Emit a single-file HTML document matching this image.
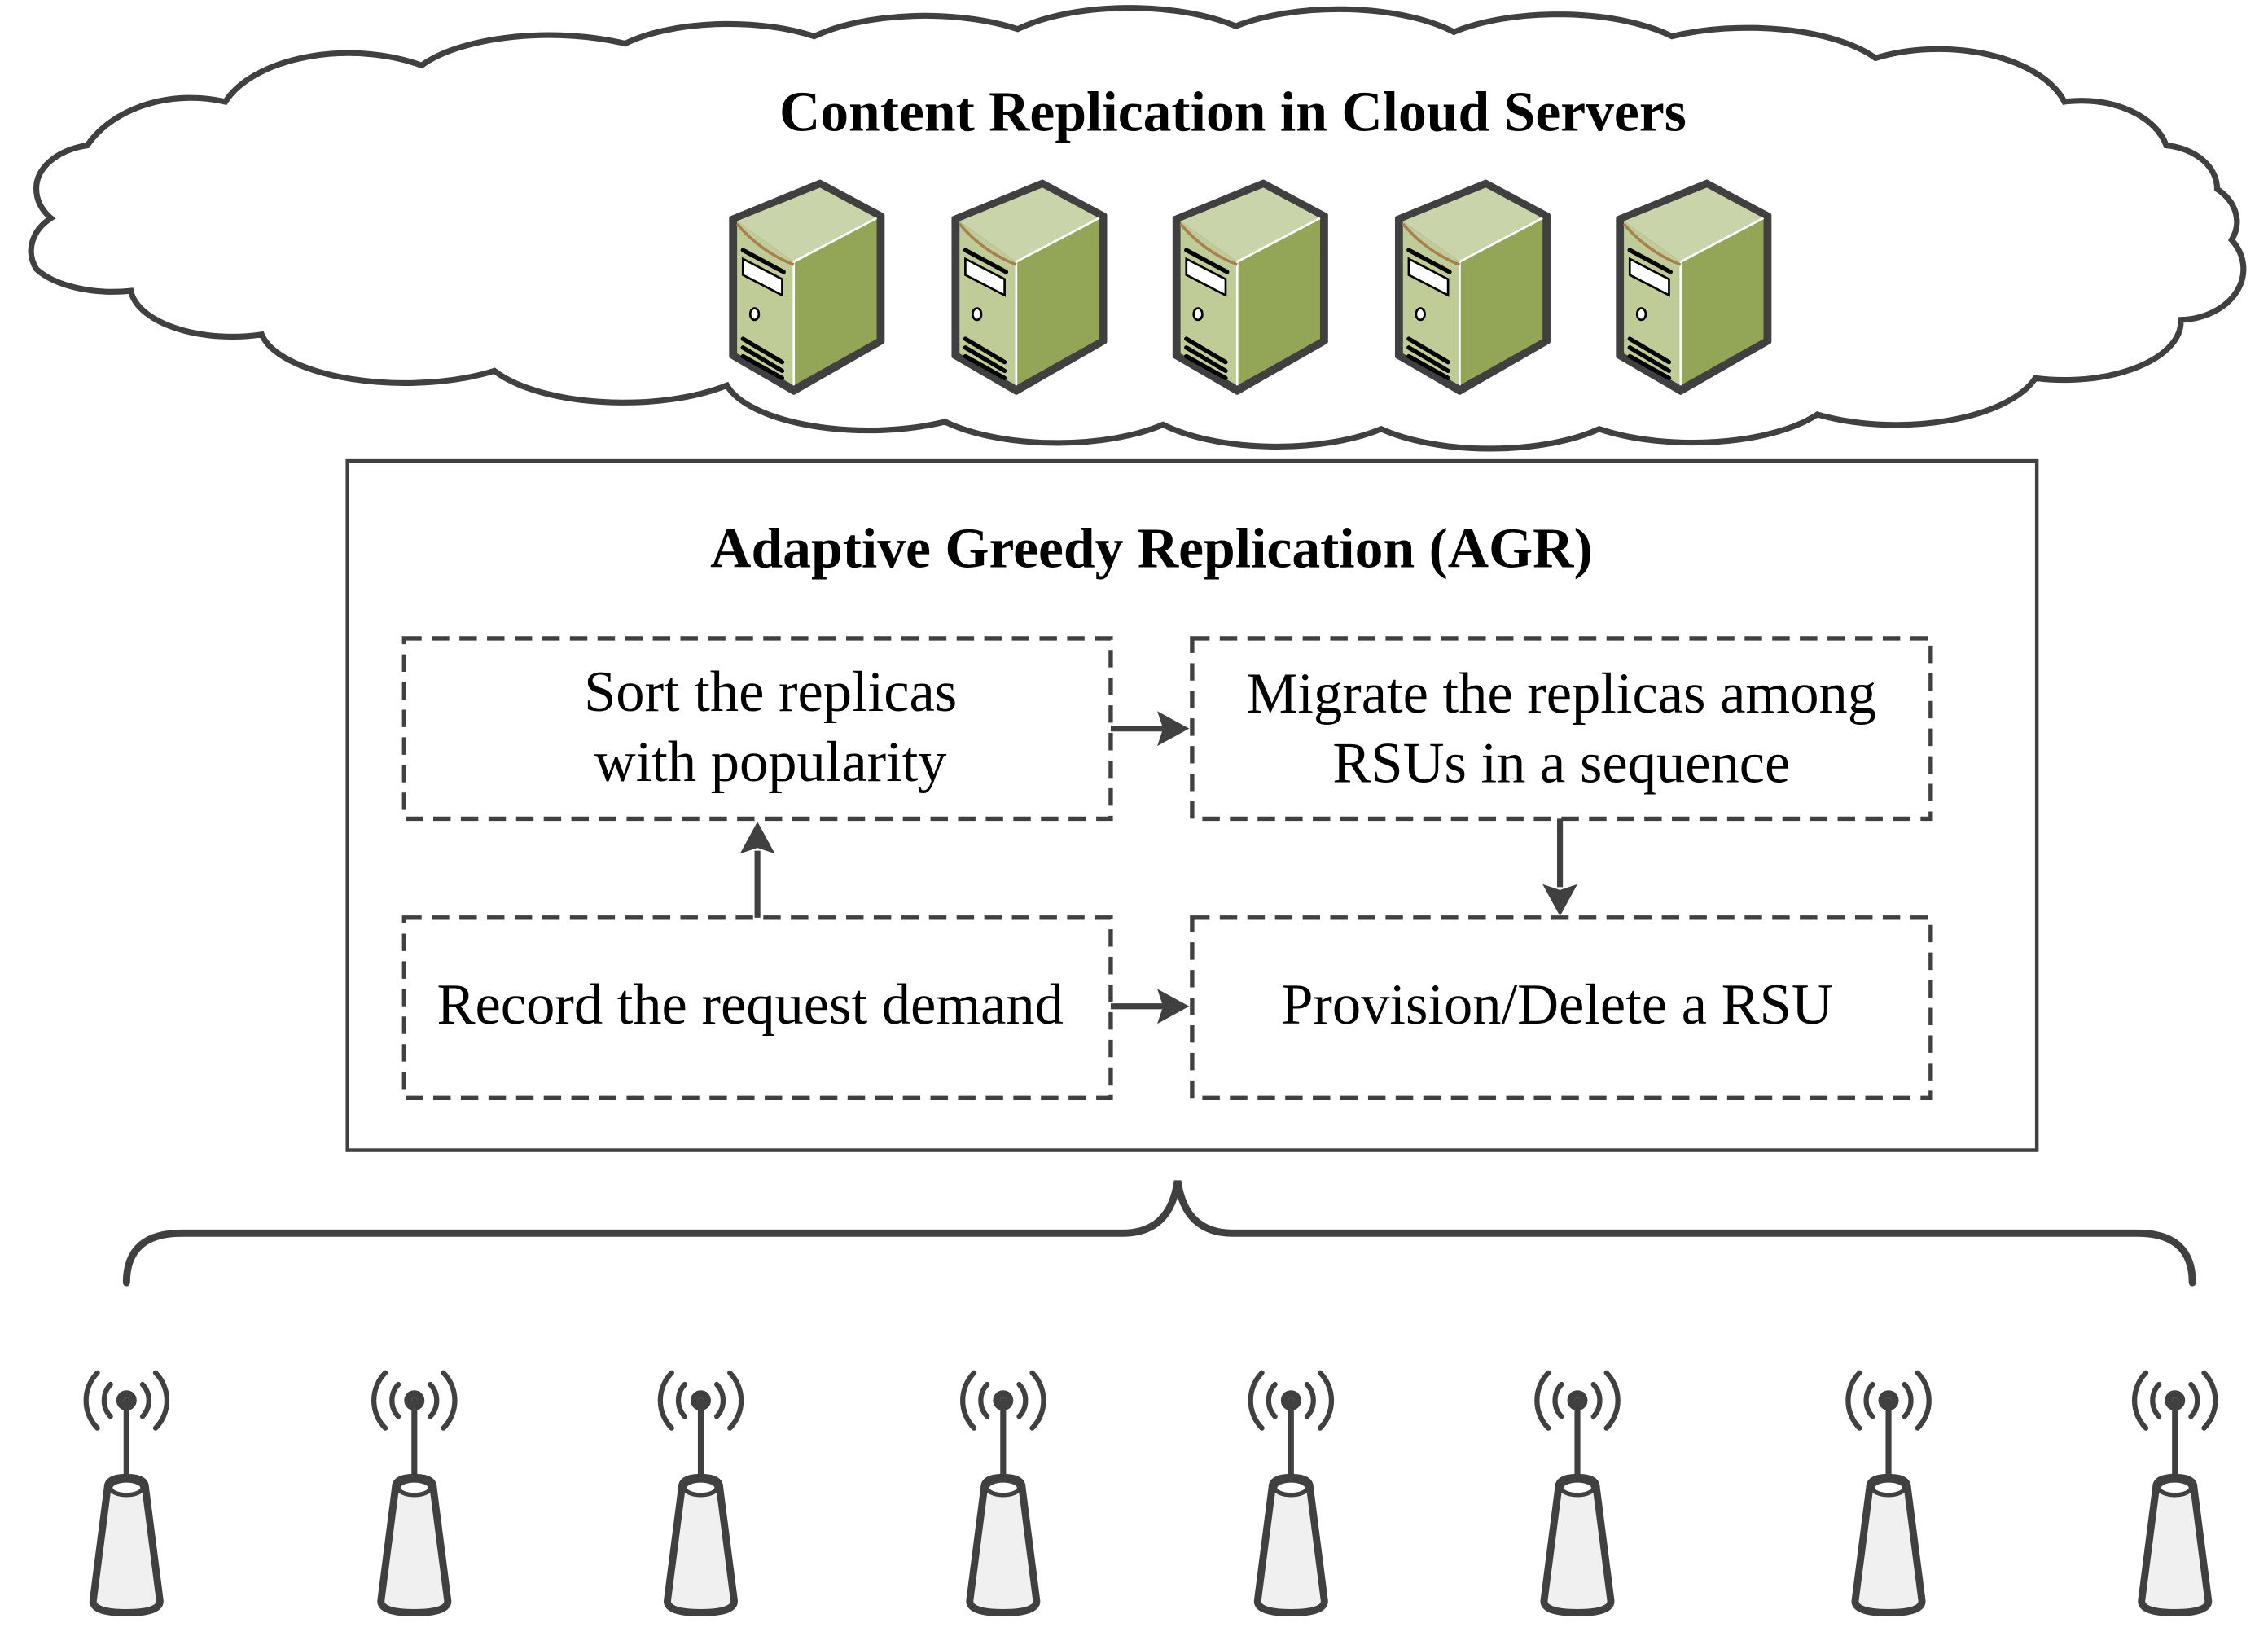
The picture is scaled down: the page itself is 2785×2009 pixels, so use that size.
<!DOCTYPE html>
<html><head><meta charset="utf-8"><style>html,body{margin:0;padding:0;background:#fff}svg{display:block}</style></head>
<body>
<svg width="2785" height="2009" viewBox="0 0 1560 1125" preserveAspectRatio="none" xmlns="http://www.w3.org/2000/svg" font-family="'Liberation Serif', serif">
<defs>
<g id="srv">
<path d="M2,25 L63,0 L106,23 L106,110 L45,145 L2,120 Z" fill="#404040" stroke="#404040" stroke-width="3" stroke-linejoin="round"/>
<path d="M6,27 L63,4 L102,25 L45,55 Z" fill="#c9d4aa"/>
<path d="M45,55 L102,25 L102,108 L45,140 Z" fill="#93a657"/>
<path d="M6,27 L45,55 L45,140 L6,118 Z" fill="#c0cc98"/>
<path d="M45,55 L102,25 M45,55 L45,140" stroke="#fff" stroke-width="1.5" fill="none"/>
<path d="M6,29 Q22,48 45,57" stroke="#a88050" stroke-width="2" fill="none"/>
<path d="M10,47 L38,62" stroke="#000" stroke-width="3" stroke-linecap="round"/>
<path d="M10,53 L37,67 L37,78 L10,64 Z" fill="#fff" stroke="#000" stroke-width="1.5"/>
<ellipse cx="18" cy="91" rx="3" ry="4" fill="#fff" stroke="#000" stroke-width="1.5"/>
<path d="M10,108 L37,124 M10,114 L37,130 M10,120 L37,135" stroke="#000" stroke-width="3" stroke-linecap="round"/>
</g>
<g id="ant" fill="none" stroke="#404040" stroke-linecap="round">
<circle cx="0" cy="0" r="7" fill="#404040" stroke="none"/>
<circle cx="0" cy="0" r="2" fill="#fff" stroke="none"/>
<path d="M0,0 L0,55" stroke-width="4"/>
<path d="M-11,-11 A16,16 0 0 0 -11,11 M11,-11 A16,16 0 0 1 11,11" stroke-width="3.5"/>
<path d="M-20,-19 A27,27 0 0 0 -20,19 M20,-19 A27,27 0 0 1 20,19" stroke-width="3.5"/>
<path d="M-13,60 Q-13,53 0,53 Q13,53 13,60 L23,138 Q23,146 0,146 Q-23,146 -23,138 Z" fill="#f0f0f0" stroke-width="5" stroke-linejoin="round"/>
<ellipse cx="0" cy="60" rx="11" ry="5" fill="#fff" stroke-width="3"/>
</g>
</defs>

<path d="M60,100 A80,60 0 0 1 155,70 A90,50 0 0 1 290,45 A100,40 0 0 1 430,30 A90,35 0 0 1 560,25 A100,40 0 0 1 700,20 A100,40 0 0 1 850,18 A100,40 0 0 1 1000,22 A100,40 0 0 1 1150,25 A100,40 0 0 1 1290,40 A90,50 0 0 1 1420,70 A60,40 0 0 1 1490,100 A40,30 0 0 1 1525,130 A40,30 0 0 1 1535,165 A45,35 0 0 1 1500,220 A80,40 0 0 1 1400,260 A100,45 0 0 1 1250,285 A100,40 0 0 1 1100,295 A100,40 0 0 1 950,295 A100,40 0 0 1 800,292 A100,40 0 0 1 650,290 A100,40 0 0 1 500,265 A100,40 0 0 1 340,255 A100,40 0 0 1 180,230 A70,35 0 0 1 90,200 A60,30 0 0 1 25,185 A40,30 0 0 1 35,150 A40,30 0 0 1 25,130 A45,30 0 0 1 60,100 Z" fill="#fff" stroke="#404040" stroke-width="4"/>

<text x="848" y="90" font-size="39" font-weight="bold" text-anchor="middle">Content Replication in Cloud Servers</text>
<use href="#srv" x="501" y="125"/>
<use href="#srv" x="654" y="125"/>
<use href="#srv" x="806" y="125"/>
<use href="#srv" x="959" y="125"/>
<use href="#srv" x="1111" y="125"/>

<rect x="239" y="317" width="1162" height="474" fill="none" stroke="#404040" stroke-width="2.5"/>
<text x="792" y="390" font-size="39" font-weight="bold" text-anchor="middle">Adaptive Greedy Replication (AGR)</text>

<g fill="none" stroke="#404040" stroke-width="3" stroke-dasharray="12,7">
<rect x="278" y="439" width="486" height="124"/>
<rect x="820" y="439" width="508" height="124"/>
<rect x="278" y="631" width="486" height="124"/>
<rect x="820" y="631" width="508" height="124"/>
</g>
<g font-size="39.5" text-anchor="middle" fill="#000">
<text x="530" y="489">Sort the replicas</text>
<text x="530" y="537">with popularity</text>
<text x="1074" y="490">Migrate the replicas among</text>
<text x="1074" y="538">RSUs in a sequence</text>
<text x="516" y="704">Record the request demand</text>
<text x="1071" y="704">Provision/Delete a RSU</text>
</g>
<g stroke="#404040" stroke-width="4" fill="#404040">
<line x1="764" y1="501" x2="800" y2="501"/><path d="M818,501 L796,489 L800,501 L796,513 Z" stroke="none"/>
<line x1="764" y1="692" x2="800" y2="692"/><path d="M818,692 L796,680 L800,692 L796,704 Z" stroke="none"/>
<line x1="521" y1="631" x2="521" y2="585"/><path d="M521,565 L509,587 L521,583 L533,587 Z" stroke="none"/>
<line x1="1073" y1="563" x2="1073" y2="610"/><path d="M1073,630 L1061,608 L1073,612 L1085,608 Z" stroke="none"/>
</g>

<path d="M87,882 Q87,848 125,848 L772,848 Q805,848 810,812 Q815,848 848,848 L1470,848 Q1508,848 1508,882" fill="none" stroke="#404040" stroke-width="5" stroke-linecap="round"/>

<use href="#ant" x="87" y="963"/>
<use href="#ant" x="285" y="963"/>
<use href="#ant" x="482" y="963"/>
<use href="#ant" x="690" y="963"/>
<use href="#ant" x="888" y="963"/>
<use href="#ant" x="1085" y="963"/>
<use href="#ant" x="1299" y="963"/>
<use href="#ant" x="1496" y="963"/>
</svg>
</body></html>
